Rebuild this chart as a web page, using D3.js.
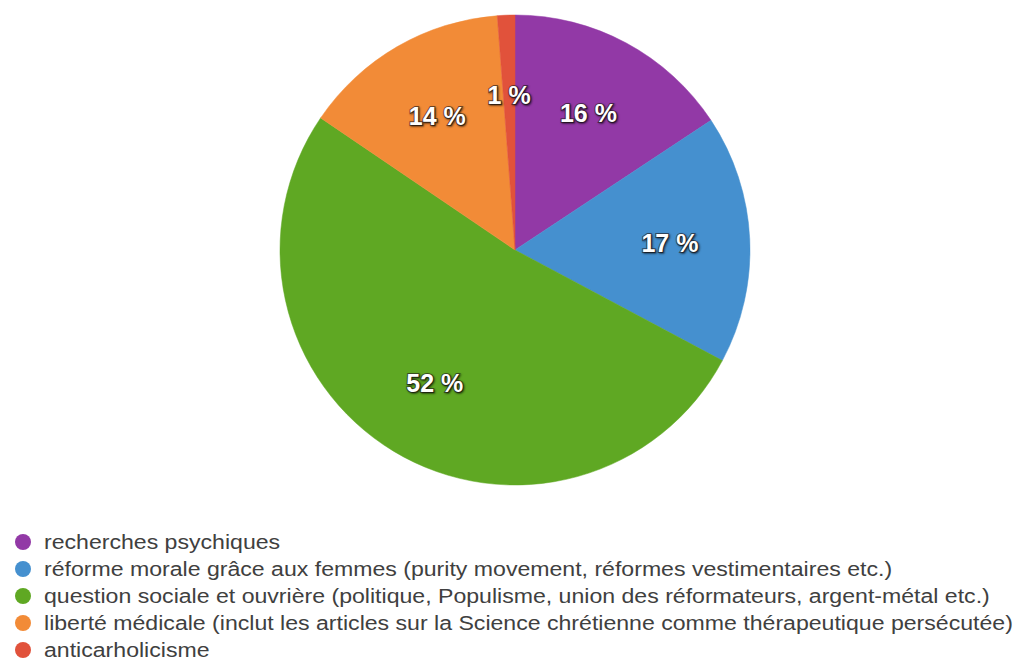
<!DOCTYPE html>
<html>
<head>
<meta charset="utf-8">
<script src="https://cdnjs.cloudflare.com/ajax/libs/d3/7.8.5/d3.min.js"></script>
<style>
  body { margin: 0; background: #fff; }
  svg { display: block; }
  .slice-label { font-family: "Liberation Sans", Arial, sans-serif; font-weight: bold; }
  .legend text { font-family: "Liberation Sans", Arial, sans-serif; }
</style>
</head>
<body>
<svg width="1019" height="662"></svg>
<script>
// themes of the articles, clockwise from 12 o'clock
var categories = [
  "recherches psychiques",
  "réforme morale grâce aux femmes (purity movement, réformes vestimentaires etc.)",
  "question sociale et ouvrière (politique, Populisme, union des réformateurs, argent-métal etc.)",
  "liberté médicale (inclut les articles sur la Science chrétienne comme thérapeutique persécutée)",
  "anticarholicisme"
];
var shares = [15.7, 17.1, 51.7, 14.3, 1.2];
var colors = ["#9239a6", "#4590cf", "#5fa823", "#f28b37", "#e1523b"];

var svg = d3.select("svg"),
    width = +svg.attr("width"),
    height = +svg.attr("height");

var cx = 515, cy = 250, radius = 235;

var data = categories.map(function(c, i) { return {name: c, value: shares[i], color: colors[i]}; });
var total = d3.sum(shares);

var pie = d3.pie()
    .sort(null)
    .value(function(d) { return d.value; });

var arc = d3.arc().innerRadius(0).outerRadius(radius);
var labelArc = d3.arc().innerRadius(radius * 0.66).outerRadius(radius * 0.66);

var g = svg.append("g").attr("transform", "translate(" + cx + "," + cy + ")");

g.selectAll("path")
    .data(pie(data))
    .enter().append("path")
      .attr("d", arc)
      .attr("fill", function(d) { return d.data.color; })
      .attr("stroke", function(d) { return d.data.color; })
      .attr("stroke-width", 0.5);

g.selectAll("text.slice-label")
    .data(pie(data))
    .enter().append("text")
      .attr("class", "slice-label")
      .attr("transform", function(d) { return "translate(" + labelArc.centroid(d) + ")"; })
      .attr("text-anchor", "middle")
      .attr("dy", "0.36em")
      .attr("font-size", 25)
      .attr("fill", "#fff")
      .attr("stroke", "rgba(40,30,30,0.6)")
      .attr("stroke-width", 2)
      .attr("paint-order", "stroke")
      .style("text-shadow", "1px 1px 2px rgba(0,0,0,0.6)")
      .text(function(d) { return Math.round(d.data.value / total * 100) + " %"; });

// legend
var legend = svg.append("g").attr("class", "legend");
var rows = legend.selectAll("g")
    .data(data)
    .enter().append("g")
      .attr("transform", function(d, i) { return "translate(0," + (542 + i * 27) + ")"; });

rows.append("circle")
    .attr("cx", 23)
    .attr("cy", 0)
    .attr("r", 8)
    .attr("fill", function(d) { return d.color; });

// text is drawn a little wider than the font's natural width, like the original
rows.append("text")
    .attr("transform", "translate(44,0) scale(1.1,1)")
    .attr("dy", "0.35em")
    .attr("font-size", 21)
    .attr("fill", "#404040")
    .text(function(d) { return d.name; });
</script>
</body>
</html>
